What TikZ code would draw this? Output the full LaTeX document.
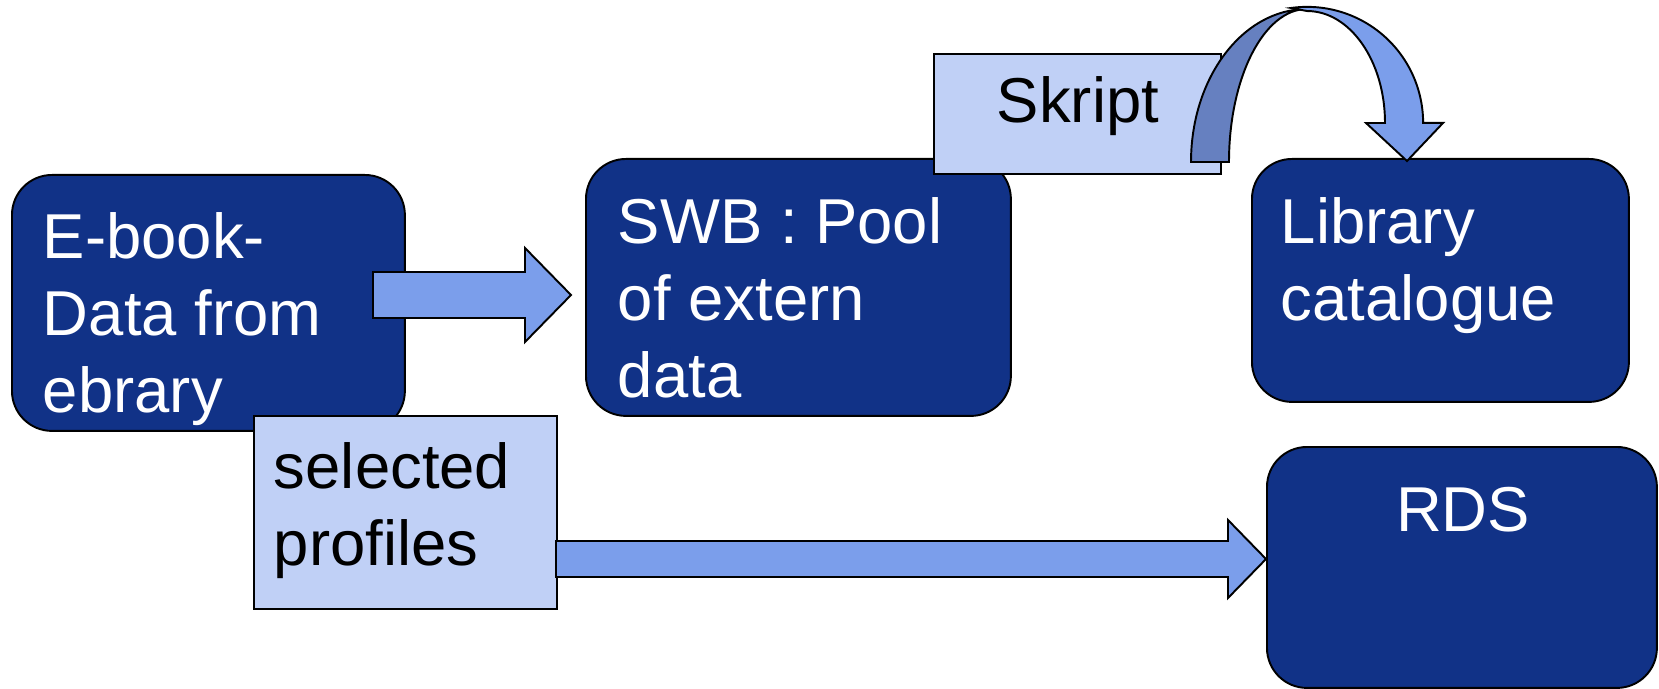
\documentclass[tikz,border=0pt]{standalone}
\usepackage{fontspec}
\setmainfont{Liberation Sans}
\usetikzlibrary{positioning}
\definecolor{boxblue}{RGB}{17,50,135}
\definecolor{paleblue}{RGB}{192,208,246}
\definecolor{arrowblue}{RGB}{123,158,235}
\definecolor{bandblue}{RGB}{102,128,192}

\begin{document}
\begin{tikzpicture}[x=0.02cm, y=-0.02cm, line width=1.1pt,
  dbox/.style={draw=black, fill=boxblue, rounded corners=0.8cm, anchor=north west, inner sep=0pt},
  pbox/.style={draw=black, fill=paleblue, anchor=north west, inner sep=0pt},
  wtext/.style={text=white, anchor=base west, inner sep=0pt, align=left, font=\fontsize{36.1pt}{43.8pt}\selectfont},
  btext/.style={wtext, text=black},
  blockarrow/.style={draw=black, fill=arrowblue, line join=miter}]
\useasboundingbox (0,0) rectangle (1659,689);
\node[dbox, minimum width=7.86cm, minimum height=5.12cm] (ebook) at (11,174) {};
\node[wtext] (ebooktext) at (42,412) {E-book-\\Data from\\ebrary};
\coordinate (feedtail) at (373,295);
\coordinate (feedtip) at (571,295);
\draw[blockarrow] (feedtail) -- ++(0,-23) -- ++(152,0) -- ++(0,-24) -- (feedtip) -- ++(-46,47) -- ++(0,-24) -- ++(-152,0) -- cycle;
\node[dbox, minimum width=8.5cm, minimum height=5.14cm] (swb) at (585,158) {};
\node[wtext] (swbtext) at (617,397) {SWB : Pool\\of extern\\data};
\node[pbox, minimum width=5.74cm, minimum height=2.4cm] (skript) at (933,53) {};
\node[btext, anchor=base] (skripttext) at (1078,123) {Skript};
\node[dbox, minimum width=7.54cm, minimum height=4.86cm] (catalogue) at (1251,158) {};
\node[wtext] (cataloguetext) at (1280,320) {Library\\catalogue};
\draw[fill=bandblue] (1191,162) arc[start angle=180, end angle=90, x radius=2.32cm, y radius=3.06cm] arc[start angle=90, end angle=180, x radius=1.56cm, y radius=3.06cm] -- cycle;
\draw[blockarrow] (1291,8) arc[start angle=98, end angle=0, x radius=2.32cm, y radius=2.32cm] -- ++(20,0) -- (1407,161) -- (1366,123) -- (1385,123) arc[start angle=0, end angle=90, x radius=1.56cm, y radius=2.24cm] -- cycle;
\node[pbox, minimum width=6.06cm, minimum height=3.86cm] (profiles) at (253,415) {};
\node[btext] (profilestext) at (273,565) {selected\\profiles};
\node[dbox, minimum width=7.8cm, minimum height=4.82cm] (rds) at (1266,446) {};
\node[wtext, anchor=base] (rdstext) at (1463,531) {RDS};
\coordinate (rdstail) at (556,559);
\coordinate (rdstip) at (1266,559);
\draw[blockarrow] (rdstail) -- ++(0,-18) -- ++(672,0) -- ++(0,-21) -- (rdstip) -- ++(-38,39) -- ++(0,-21) -- ++(-672,0) -- cycle;
\end{tikzpicture}
\end{document}
